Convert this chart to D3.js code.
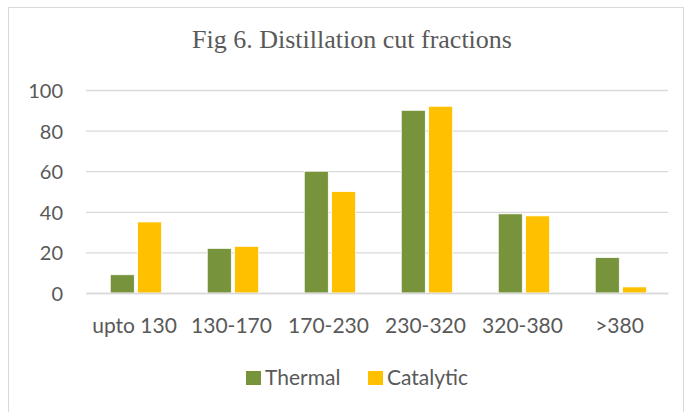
<!DOCTYPE html>
<html>
<head>
<meta charset="utf-8">
<script src="https://cdn.jsdelivr.net/npm/d3@7"></script>
<style>
  body { margin: 0; background: #fff; }
  svg { display: block; }
</style>
</head>
<body>
<svg id="chart" width="688" height="412"></svg>
<script>
// data
const categories = ["upto 130", "130-170", "170-230", "230-320", "320-380", ">380"];
const thermal = [9, 22, 60, 90, 39, 17.5];
const catalytic = [35, 23, 50, 92, 38, 3];
const seriesNames = ["Thermal", "Catalytic"];
const yTicks = [0, 20, 40, 60, 80, 100];

const colors = { Thermal: "#77933C", Catalytic: "#FFC000" };
const margin = { top: 90, right: 20, bottom: 119, left: 86 };
const width = 688 - margin.left - margin.right;
const height = 412 - margin.top - margin.bottom;
const labelFont = "Lato, 'Open Sans', sans-serif";

var svg = d3.select("#chart");

// outer chart border
svg.append("rect")
    .attr("x", 8.5).attr("y", 7.5)
    .attr("width", 675).attr("height", 420)
    .attr("fill", "none")
    .attr("stroke", "#d9d9d9");

// title
svg.append("text")
    .attr("x", 352).attr("y", 48)
    .attr("text-anchor", "middle")
    .style("font-family", "'Liberation Serif', 'Times New Roman', serif")
    .style("font-size", "26px")
    .style("fill", "#595959")
    .text("Fig 6. Distillation cut fractions");

var g = svg.append("g")
    .attr("transform", "translate(" + margin.left + "," + margin.top + ")");

var x0 = d3.scaleBand().domain(categories).range([0, width]);
var x1 = d3.scaleBand().domain(seriesNames)
    .range([x0.bandwidth() * 0.25, x0.bandwidth() * 0.78])
    .paddingInner(0.12);
var y = d3.scaleLinear().domain([0, 100]).range([height, 0]);

// gridlines + y labels
var yAxis = d3.axisLeft(y).tickValues(yTicks).tickSize(-width).tickPadding(23);
var ya = g.append("g").call(yAxis);
ya.select(".domain").remove();
ya.selectAll(".tick line").attr("stroke", "#d9d9d9").attr("stroke-width", 1.3);
ya.selectAll(".tick text")
    .attr("dy", "0.37em")
    .style("font-family", labelFont)
    .style("font-size", "20px")
    .style("fill", "#595959");

// bars
var rows = categories.map(function(c, i) {
    return { cat: c, values: [{ name: "Thermal", v: thermal[i] }, { name: "Catalytic", v: catalytic[i] }] };
});

var groups = g.selectAll(".grp")
    .data(rows)
    .enter()
    .append("g")
    .attr("transform", function(d) { return "translate(" + x0(d.cat) + ",0)"; });

groups.selectAll("rect")
    .data(function(d) { return d.values; })
    .enter()
    .append("rect")
    .attr("x", function(d) { return x1(d.name); })
    .attr("y", function(d) { return y(d.v); })
    .attr("width", x1.bandwidth())
    .attr("height", function(d) { return height - y(d.v); })
    .attr("fill", function(d) { return colors[d.name]; })
    .attr("stroke", "#fff")
    .attr("stroke-width", 0.8);

// x axis
var xa = g.append("g")
    .attr("transform", "translate(0," + height + ")")
    .call(d3.axisBottom(x0).tickSize(0));
xa.select(".domain").attr("stroke", "#d9d9d9").attr("stroke-width", 1.3);
xa.selectAll(".tick text")
    .attr("y", 40)
    .attr("dy", "0")
    .style("font-family", labelFont)
    .style("font-size", "21px")
    .style("fill", "#595959");

// legend
var legend = svg.append("g").attr("transform", "translate(246,371)");
var legendX = [0, 122];
seriesNames.forEach(function(name, i) {
    var item = legend.append("g").attr("transform", "translate(" + legendX[i] + ",0)");
    item.append("rect")
        .attr("width", 15).attr("height", 14)
        .attr("fill", colors[name]);
    item.append("text")
        .attr("x", 19).attr("y", 14)
        .style("font-family", labelFont)
        .style("font-size", "21px")
        .style("fill", "#595959")
        .text(name);
});
</script>
</body>
</html>
